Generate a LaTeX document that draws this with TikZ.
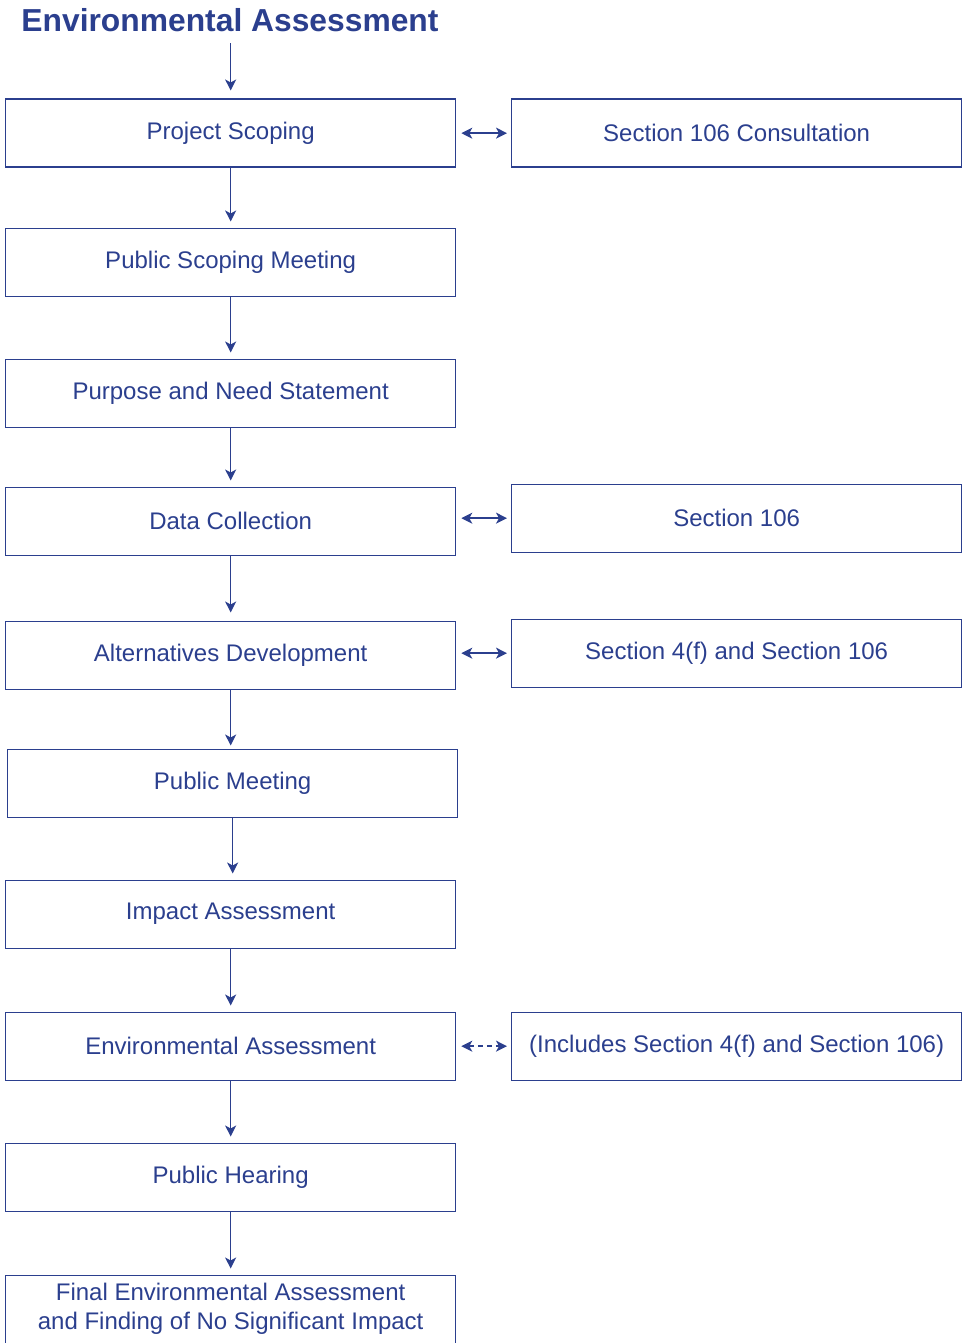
\documentclass[tikz,border=0pt]{standalone}
\usepackage{fontspec}
\setmainfont{Liberation Sans}
\usetikzlibrary{arrows.meta}
\definecolor{eablue}{HTML}{2B3F8E}
\begin{document}
\begin{tikzpicture}[x=1pt,y=-1pt,
  box/.style={draw=eablue, line width=1.3pt, text=eablue, minimum width=450pt, minimum height=68pt, inner sep=0pt, font=\fontsize{24}{29}\selectfont, align=center, anchor=north west},
  tip/.tip={Stealth[length=11pt,width=11pt,inset=3pt]},
  arr/.style={draw=eablue, line width=1.4pt, -tip},
  darr/.style={draw=eablue, line width=1.4pt, tip-tip, shorten <=5pt, shorten >=4pt}
]
\useasboundingbox (0,0) rectangle (962,1343);
\node[text=eablue, font=\fontsize{31.8}{36}\selectfont\bfseries, anchor=center] (title) at (230,20) {Environmental Assessment};

\node[box] (ps) at (5,98.5) {Project Scoping};
\node[box] (psm) at (5,227.5) {Public Scoping Meeting};
\node[box] (pn) at (5,358.5) {Purpose and Need Statement};
\node[box] (dc) at (5,486.5) {Data Collection};
\node[box] (ad) at (5,620.5) {Alternatives Development};
\node[box] (pm) at (7,748.5) {Public Meeting};
\node[box] (ia) at (5,879.5) {Impact Assessment};
\node[box] (ea) at (5,1011.5) {Environmental Assessment};
\node[box] (ph) at (5,1142.5) {Public Hearing};
\node[box] (fe) at (5,1274.5) {Final Environmental Assessment\\and Finding of No Significant Impact};

\node[box] (s1) at (511,98.5) {Section 106 Consultation};
\node[box] (s2) at (511,483.5) {Section 106};
\node[box] (s3) at (511,618.5) {Section 4(f) and Section 106};
\node[box] (s4) at (511,1011.5) {(Includes Section 4(f) and Section 106)};

\draw[arr, shorten <=8pt, shorten >=8pt] (title.south -| ps.north) -- (ps.north);
\draw[arr, shorten >=6pt] (ps.south) -- (psm.north);
\draw[arr, shorten >=6pt] (psm.south) -- (pn.north);
\draw[arr, shorten >=6pt] (pn.south) -- (dc.north);
\draw[arr, shorten >=8pt] (dc.south) -- (ad.north);
\draw[arr, shorten >=3pt] (ad.south) -- (ad.south |- pm.north);
\draw[arr, shorten >=6pt] (pm.south) -- (pm.south |- ia.north);
\draw[arr, shorten >=6pt] (ia.south) -- (ea.north);
\draw[arr, shorten >=6pt] (ea.south) -- (ph.north);
\draw[arr, shorten >=6pt] (ph.south) -- (fe.north);

\draw[darr] (s1.west -| ps.east) -- (s1.west);
\draw[darr] (s2.west -| dc.east) -- (s2.west);
\draw[darr] (s3.west -| ad.east) -- (s3.west);
\draw[darr, dash pattern=on 5pt off 4pt] (s4.west -| ea.east) -- (s4.west);
\end{tikzpicture}
\end{document}
